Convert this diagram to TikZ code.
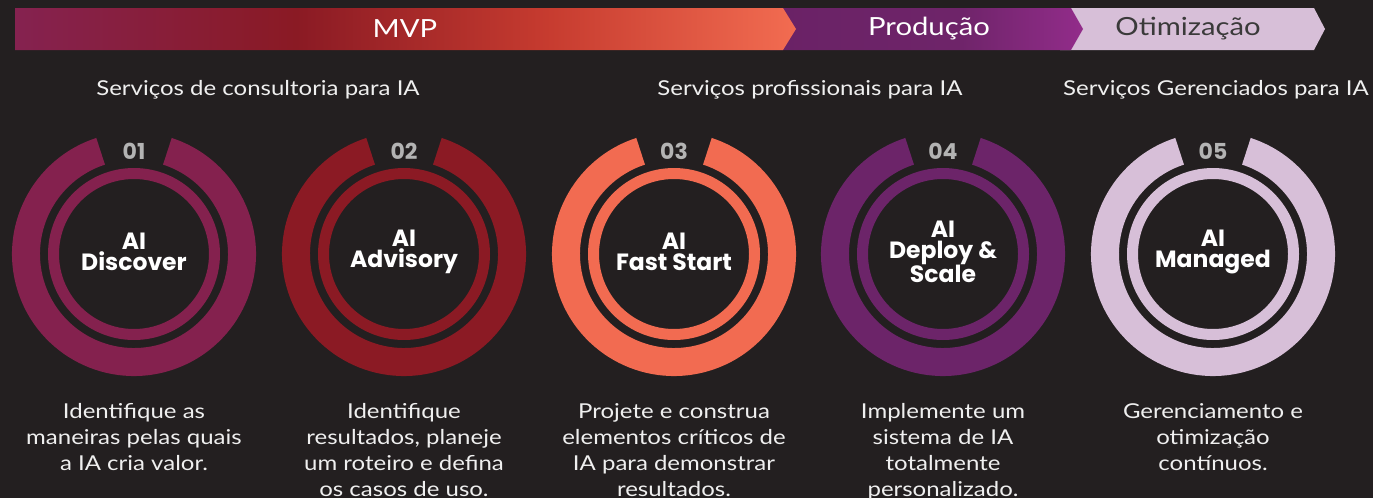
\documentclass[tikz,border=0pt]{standalone}
\usepackage{fontspec}
\setmainfont{Lato}[FakeStretch=1.17]
\newfontfamily\popf{Poppins}
\definecolor{bg}{HTML}{231F20}
\definecolor{cA}{HTML}{84214E}
\definecolor{cB}{HTML}{8B1A24}
\definecolor{cC}{HTML}{F26B51}
\definecolor{cD}{HTML}{6C2469}
\definecolor{cE}{HTML}{D7BFD8}
\definecolor{numgray}{HTML}{B3B3B3}
\definecolor{bodytxt}{HTML}{EFEFEF}
\definecolor{optxt}{HTML}{3A3A3A}
\definecolor{mA}{HTML}{852250}
\definecolor{mB}{HTML}{8A1A24}
\definecolor{mC}{HTML}{C63B2F}
\definecolor{mD}{HTML}{F26C51}
\definecolor{pA}{HTML}{6A2266}
\definecolor{pB}{HTML}{6E2469}
\definecolor{pC}{HTML}{922C8A}
\pgfdeclarehorizontalshading{mvpshade}{100bp}{color(0bp)=(mA); color(25bp)=(mA); color(43bp)=(mB); color(59bp)=(mC); color(75bp)=(mD); color(100bp)=(mD)}
\pgfdeclarehorizontalshading{prodshade}{100bp}{color(0bp)=(pA); color(25bp)=(pA); color(55bp)=(pB); color(75bp)=(pC); color(100bp)=(pC)}
\tikzset{
  bartext/.style={font=\fontsize{25}{25}\selectfont, text=white, inner sep=0pt},
  heading/.style={font=\fontsize{20.5}{24}\selectfont, text=bodytxt, inner sep=0pt},
  numtext/.style={font=\popf\bfseries\fontsize{22}{22}\selectfont, text=numgray, inner sep=0pt},
  centertext/.style={font=\popf\bfseries\fontsize{23.5}{21}\selectfont, text=white, align=center, inner sep=0pt},
  desctext/.style={font=\fontsize{20.5}{26}\selectfont, text=bodytxt, align=center, inner sep=0pt, anchor=north},
}
\newcommand\stagering[3]{%
  \begin{scope}[shift={(#1,#2)}]
    \fill[#3] (108:122) arc[start angle=108, end angle=432, radius=122]
      -- (72:94) arc[start angle=72, end angle=-252, radius=94] -- cycle;
    \fill[#3, even odd rule] (0,0) circle[radius=86] (0,0) circle[radius=75];
  \end{scope}}
\begin{document}
\begin{tikzpicture}[x=1pt, y=1pt]
\fill[bg] (0,0) rectangle (1373,-498);
\useasboundingbox (0,0) rectangle (1373,-498);
% top bar
\fill[cE] (1060,-8) -- (1314,-8) -- (1325,-29) -- (1314,-50) -- (1060,-50) -- cycle;
\shade[shading=prodshade] (770,-8) -- (1071,-8) -- (1083,-29) -- (1071,-50) -- (770,-50) -- cycle;
\shade[shading=mvpshade] (15,-8) -- (783,-8) -- (796,-29) -- (783,-50) -- (15,-50) -- cycle;
\node[bartext] (mvp) at (405,-29) {MVP};
\node[bartext] (prod) at (929,-29) {Produção};
\node[bartext, text=optxt] (otim) at (1188,-29) {Otimização};
% headings
\node[heading] (h1) at (258,-90) {Serviços de consultoria para IA};
\node[heading] (h2) at (810,-90) {Serviços profissionais para IA};
\node[heading] (h3) at (1216,-90) {Serviços Gerenciados para IA};
% rings
\stagering{134}{-254}{cA}
\stagering{404}{-254}{cB}
\stagering{674}{-254}{cC}
\stagering{943}{-254}{cD}
\stagering{1213}{-254}{cE}
% numbers
\node[numtext] (n1) at (134,-151) {01};
\node[numtext] (n2) at (404,-151) {02};
\node[numtext] (n3) at (674,-151) {03};
\node[numtext] (n4) at (943,-151) {04};
\node[numtext] (n5) at (1213,-151) {05};
% centre titles
\node[centertext] (t1) at (134,-252) {AI\\Discover};
\node[centertext] (t2) at (404,-252) {AI\\Advisory};
\node[centertext] (t3) at (674,-252) {AI\\Fast Start};
\node[centertext] (t4) at (943,-252) {AI\\Deploy \&\\Scale};
\node[centertext] (t5) at (1213,-252) {AI\\Managed};
% descriptions
\node[desctext] (d1) at (134,-403) {Identifique as\\maneiras pelas quais\\a IA cria valor.};
\node[desctext] (d2) at (404,-403) {Identifique\\resultados, planeje\\um roteiro e defina\\os casos de uso.};
\node[desctext] (d3) at (674,-403) {Projete e construa\\elementos críticos de\\IA para demonstrar\\resultados.};
\node[desctext] (d4) at (943,-403) {Implemente um\\sistema de IA\\totalmente\\personalizado.};
\node[desctext] (d5) at (1213,-403) {Gerenciamento e\\otimização\\contínuos.};
\end{tikzpicture}
\end{document}
